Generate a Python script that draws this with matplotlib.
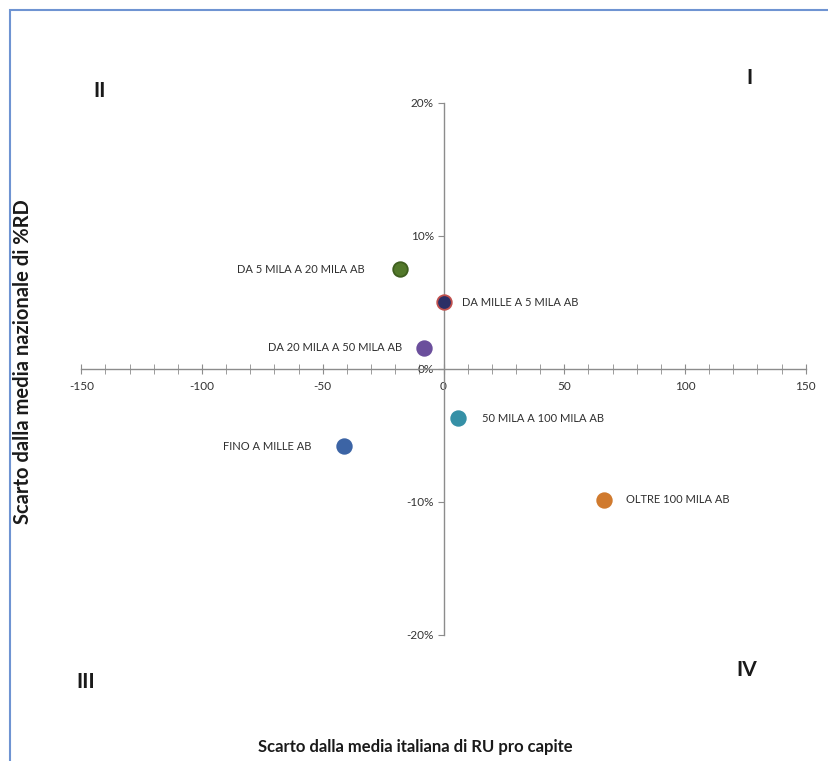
import matplotlib
matplotlib.use("Agg")
import matplotlib.pyplot as plt
from matplotlib.ticker import MultipleLocator, FuncFormatter
from matplotlib.patches import Rectangle

plt.rcParams['axes.unicode_minus'] = False
plt.rcParams['font.family'] = ['Lato', 'DejaVu Sans']

# Data
categories = ["FINO A MILLE AB", "DA MILLE A 5 MILA AB", "DA 5 MILA A 20 MILA AB",
              "DA 20 MILA A 50 MILA AB", "50 MILA A 100 MILA AB", "OLTRE 100 MILA AB"]
x_ru = [-41.4, 0.2, -18.2, -7.9, 6.2, 66.3]
y_rd = [-5.8, 5.0, 7.5, 1.6, -3.7, -9.85]
colors = ["#3c64a5", "#2c2f66", "#52782a", "#6b4f9c", "#3590a6", "#d07a2e"]
edges = ["#3c64a5", "#c0504d", "#3e5e1e", "#6b4f9c", "#3590a6", "#d07a2e"]
offsets_px = [-32, 18, -35, -22, 24, 22]
x_ticks = [-150, -100, -50, 0, 50, 100, 150]
y_ticks = [-20, -10, 0, 10, 20]
quadrants = ["I", "II", "III", "IV"]

fig = plt.figure(figsize=(8.29, 7.61), dpi=100)
ax = fig.add_axes([0.0981, 0.1656, 0.8738, 0.6995])
ax.set_xlim(-150, 150)
ax.set_ylim(-20, 20)

ax.spines['left'].set_position(('data', 0))
ax.spines['bottom'].set_position(('data', 0))
ax.spines['top'].set_visible(False)
ax.spines['right'].set_visible(False)
for s in ['left', 'bottom']:
    ax.spines[s].set_color('#8c8c8c')
    ax.spines[s].set_linewidth(1.0)

ax.set_xticks(x_ticks)
ax.xaxis.set_minor_locator(MultipleLocator(10))
ax.set_yticks(y_ticks)
ax.yaxis.set_major_formatter(FuncFormatter(lambda v, p: f"{v:.0f}%"))
ax.xaxis.set_major_formatter(FuncFormatter(lambda v, p: f"{v:.0f}"))
ax.tick_params(axis='x', which='both', direction='inout', length=7, color='#8c8c8c',
               labelsize=8.5, labelcolor='#333333', pad=5)
ax.tick_params(axis='y', which='major', direction='out', length=4, color='#8c8c8c',
               labelsize=8.5, labelcolor='#333333', pad=3)
ax.set_facecolor('none')

for xv, yv, c, e, lab, off in zip(x_ru, y_rd, colors, edges, categories, offsets_px):
    ax.scatter([xv], [yv], s=110, color=c, edgecolors=e, linewidths=1.3, zorder=5)
    ax.annotate(lab, (xv, yv), xytext=(off, 0), textcoords='offset pixels',
                ha='left' if off > 0 else 'right', va='center',
                fontsize=8, color='#303030')

# Quadrant labels
qpos = {"I": (750, 78), "II": (100, 91), "III": (86, 682), "IV": (747, 670)}
for q in quadrants:
    px, py = qpos[q]
    fig.text(px / 829, 1 - py / 761, q, ha='center', va='center',
             fontsize=15, fontweight='bold', color='#1a1a1a')

fig.text(415 / 829, 1 - 747 / 761, "Scarto dalla media italiana di RU pro capite",
         ha='center', va='center', fontsize=12, fontweight='bold', color='#1a1a1a')
fig.text(23 / 829, 1 - 362 / 761, "Scarto dalla media nazionale di %RD",
         ha='center', va='center', rotation=90, fontsize=14.5, fontweight='bold', color='#1a1a1a')

# Outer border (partially visible)
fig.patches.append(Rectangle((10 / 829, -0.1), 1.2, 1 - 10 / 761 + 0.1,
                             transform=fig.transFigure, fill=False,
                             edgecolor='#6f94d2', linewidth=1.5))

fig.savefig("out.png", dpi=100)
